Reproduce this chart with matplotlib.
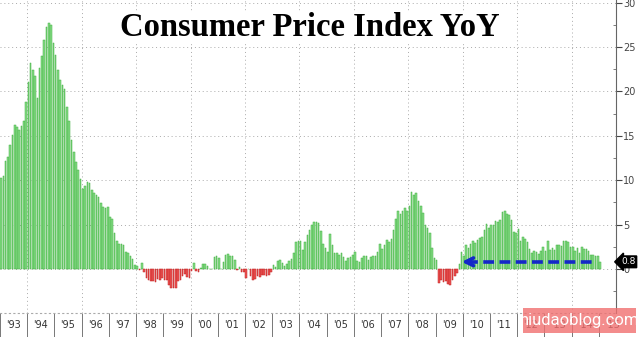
import numpy as np
import matplotlib
matplotlib.use("Agg")
import matplotlib.pyplot as plt
from matplotlib.patches import Rectangle

# China CPI YoY, monthly, Jan 1993 - Jan 2015
cpi = [
    10.3, 10.5, 12.2, 12.6, 14.0, 15.1, 16.2, 16.0, 15.7, 16.1, 16.7, 18.8,   # 1993
    21.1, 23.2, 22.4, 21.7, 19.3, 22.6, 24.0, 25.8, 27.3, 27.7, 27.5, 25.5,   # 1994
    24.1, 22.4, 21.3, 20.7, 20.3, 18.2, 16.7, 14.5, 13.2, 12.1, 11.2, 10.1,   # 1995
    9.0, 9.3, 9.8, 9.7, 8.9, 8.6, 8.3, 8.1, 7.4, 7.0, 6.9, 7.0,               # 1996
    5.9, 5.6, 4.0, 3.2, 2.8, 2.8, 2.7, 1.9, 1.8, 1.5, 1.1, 0.4,               # 1997
    0.3, -0.1, 0.7, -0.3, -1.0, -1.3, -1.4, -1.4, -1.5, -1.1, -1.2, -1.0,     # 1998
    -1.2, -1.3, -1.8, -2.2, -2.2, -2.1, -1.4, -1.3, -0.8, -0.6, -0.9, -1.0,   # 1999
    -0.2, 0.7, -0.2, -0.3, 0.1, 0.5, 0.5, 0.3, 0.0, 0.0, 1.3, 1.5,            # 2000
    1.2, 0.0, 0.8, 1.6, 1.7, 1.4, 1.5, 1.0, -0.1, 0.2, -0.3, -0.3,            # 2001
    -1.0, 0.0, -0.8, -1.3, -1.1, -0.8, -0.9, -0.7, -0.7, -0.8, -0.7, -0.4,    # 2002
    0.4, 0.2, 0.9, 1.0, 0.7, 0.3, 0.5, 0.9, 1.1, 1.8, 3.0, 3.2,               # 2003
    3.2, 2.1, 3.0, 3.8, 4.4, 5.0, 5.3, 5.3, 5.2, 4.3, 2.8, 2.4,               # 2004
    1.9, 3.9, 2.7, 1.8, 1.8, 1.6, 1.8, 1.3, 0.9, 1.2, 1.3, 1.6,               # 2005
    1.9, 0.9, 0.8, 1.2, 1.4, 1.5, 1.0, 1.3, 1.5, 1.4, 1.9, 2.8,               # 2006
    2.2, 2.7, 3.3, 3.0, 3.4, 4.4, 5.6, 6.5, 6.2, 6.5, 6.9, 6.5,               # 2007
    7.1, 8.7, 8.3, 8.5, 7.7, 7.1, 6.3, 4.9, 4.6, 4.0, 2.4, 1.2,               # 2008
    1.0, -1.6, -1.2, -1.5, -1.4, -1.7, -1.8, -1.2, -0.8, -0.5, 0.6, 1.9,      # 2009
    1.5, 2.7, 2.4, 2.8, 3.1, 2.9, 3.3, 3.5, 3.6, 4.4, 5.1, 4.6,               # 2010
    4.9, 4.9, 5.4, 5.3, 5.5, 6.4, 6.5, 6.2, 6.1, 5.5, 4.2, 4.1,               # 2011
    4.5, 3.2, 3.6, 3.4, 3.0, 2.2, 1.8, 2.0, 1.9, 1.7, 2.0, 2.5,               # 2012
    2.0, 3.2, 2.1, 2.4, 2.1, 2.7, 2.7, 2.6, 3.1, 3.2, 3.0, 2.5,               # 2013
    2.5, 2.0, 2.4, 1.8, 2.5, 2.3, 2.3, 2.0, 1.6, 1.6, 1.4, 1.5,               # 2014
    0.8,                                                                      # 2015
]
start_year = 1993
years = list(range(1993, 2016))
year_labels = ["'" + str(y)[2:] for y in years]
latest = 0.8

cpi = np.array(cpi)
t = start_year + (np.arange(len(cpi)) + 0.5) / 12.0

fig = plt.figure(figsize=(6.4, 3.37), dpi=100)
ax = fig.add_axes([0, 23.7 / 337, 616 / 640, 313.3 / 337])

pos = cpi >= 0
ax.bar(t[pos], cpi[pos], width=0.058, color="#86dc86", edgecolor="#3fae3f", linewidth=0.35, zorder=3)
ax.bar(t[~pos], cpi[~pos], width=0.058, color="#ee5555", edgecolor="#c02020", linewidth=0.35, zorder=3)

ax.set_xlim(1993.11, 2015.63)
ax.set_ylim(-5, 30.3)

# grid
ax.yaxis.grid(True, linestyle=(0, (1, 3)), color="#aaaaaa", linewidth=0.7)
for y in range(1994, 2016, 2):
    ax.axvline(y, linestyle=(0, (1, 3)), color="#aaaaaa", linewidth=0.7, zorder=1)

# right axis
ax.yaxis.tick_right()
ax.set_yticks(range(0, 31, 5))
ax.set_yticks(np.arange(-2.5, 30, 5), minor=True)
ax.tick_params(axis="y", which="major", length=4, width=0.8, color="#444444",
               labelsize=7, labelcolor="#444444", pad=1)
ax.tick_params(axis="y", which="minor", length=2, width=0.6, color="#666666", direction="in")

# x axis: separators at year boundaries, labels mid-year
ax.set_xticks(years)
ax.set_xticklabels([])
ax.set_xticks([y + 0.5 for y in years], minor=True)
ax.set_xticklabels(year_labels, minor=True)
ax.tick_params(axis="x", which="major", length=17, width=0.7, color="#777777", direction="out")
ax.tick_params(axis="x", which="minor", length=0, labelsize=7, labelcolor="#333333", pad=5)

for s in ["left", "top"]:
    ax.spines[s].set_visible(False)
ax.spines["right"].set_color("#666666")
ax.spines["bottom"].set_color("#aaaaaa")
ax.spines["bottom"].set_linestyle((0, (1, 3)))

# arrow towards the latest value
ax.plot([2010.15, 2014.95], [latest, latest], color="#1428c8", linewidth=2.6,
        linestyle=(0, (3, 1.5)), zorder=5)
ax.annotate("", xy=(2009.86, latest), xytext=(2010.4, latest),
            arrowprops=dict(arrowstyle="->", color="#1428c8", lw=2.6, mutation_scale=14),
            zorder=5)

# last value tag
ax.text(1.008, latest, f"{latest}", transform=ax.get_yaxis_transform(),
        color="white", fontsize=6.5, va="center", ha="left",
        bbox=dict(boxstyle="larrow,pad=0.15", fc="black", ec="black"))

# title
fig.text(0.484, 0.918, "Consumer Price Index YoY", ha="center", va="center",
         fontsize=23.5, fontweight="bold", family="Liberation Serif",
         bbox=dict(fc="white", ec="none", pad=1))

# watermark
fig.patches.append(Rectangle((523 / 640, 4 / 337), 113 / 640, 25 / 337,
                             transform=fig.transFigure, fc="#f07070", alpha=0.8, ec="none"))
fig.text(579.5 / 640, 17 / 337, "niudaoblog.com", ha="center", va="center",
         fontsize=12, color="white", family="Roboto")

fig.savefig("out.png", dpi=100)
